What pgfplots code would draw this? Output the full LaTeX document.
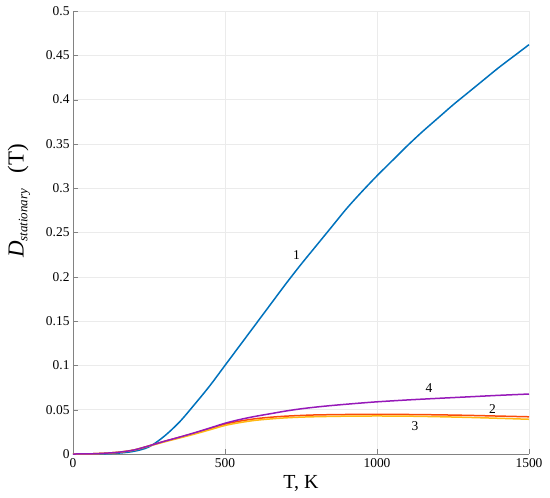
\documentclass[border=0pt]{standalone}
\usepackage{fontspec}
\setmainfont{Liberation Serif}
\usepackage{pgfplots}
\pgfplotsset{compat=1.18}

\definecolor{c1}{RGB}{0,114,189}
\definecolor{c2}{RGB}{250,75,10}
\definecolor{c3}{RGB}{255,185,20}
\definecolor{c4}{RGB}{150,25,185}
\definecolor{gridc}{RGB}{235,235,235}
\definecolor{axc}{RGB}{130,130,130}

\begin{document}
\begin{tikzpicture}
\begin{axis}[
    scale only axis,
    width=456bp, height=443bp,
    xmin=0, xmax=1500, ymin=0, ymax=0.5,
    xtick={0,500,1000,1500},
    xticklabels={0,500,1000,1500},
    ytick={0,0.05,0.1,0.15,0.2,0.25,0.3,0.35,0.4,0.45,0.5},
    yticklabels={0,0.05,0.1,0.15,0.2,0.25,0.3,0.35,0.4,0.45,0.5},
    axis lines*=left,
    axis line style={axc, line width=0.6bp},
    tick align=inside,
    major tick length=5bp,
    tick style={axc},
    grid=major,
    major grid style={gridc, line width=0.6bp},
    tick label style={font=\fontsize{13.5}{15}\selectfont},
    xticklabel style={yshift=-1bp},
    xlabel={T, K},
    xlabel style={font=\fontsize{20}{22}\selectfont, at={(axis description cs:0.5,-0.0655)}, anchor=center},
    ylabel={\textit{D}\textsubscript{\fontsize{13}{14}\selectfont\textit{stationary}}\hspace{15bp}(T)},
    ylabel style={font=\fontsize{23}{25}\selectfont, at={(axis description cs:-0.1184,0.571)}, anchor=center},
    every axis plot/.append style={line width=1.5bp, smooth, no marks},
    clip=false,
]
% curve 1
\addplot[c1] coordinates {
(0,0) (50,0) (100,0.0002) (150,0.001) (200,0.003) (250,0.008) (300,0.020)
(350,0.036) (400,0.056) (450,0.077) (500,0.100) (550,0.123) (600,0.146)
(650,0.169) (700,0.192) (750,0.214) (800,0.235) (850,0.256) (900,0.277)
(950,0.296) (1000,0.314) (1050,0.331) (1100,0.348) (1150,0.364) (1200,0.379)
(1250,0.394) (1300,0.408) (1350,0.422) (1400,0.436) (1450,0.449) (1500,0.462)};
% curve 2
\addplot[c2] coordinates {
(0,0) (50,0.0001) (100,0.0008) (150,0.002) (200,0.0045) (250,0.0092)
(300,0.0142) (350,0.0188) (400,0.0236) (450,0.0287) (500,0.0337) (550,0.0372)
(600,0.0398) (650,0.0415) (700,0.0427) (750,0.0435) (800,0.0441) (900,0.0446)
(1000,0.0447) (1100,0.0446) (1200,0.0442) (1300,0.0436) (1400,0.0428) (1500,0.0420)};
% curve 3
\addplot[c3] coordinates {
(0,0) (50,0.0001) (100,0.0008) (150,0.002) (200,0.0044) (250,0.0089)
(300,0.0136) (350,0.018) (400,0.0225) (450,0.0273) (500,0.0322) (550,0.0355)
(600,0.038) (650,0.0396) (700,0.0408) (750,0.0416) (800,0.0421) (900,0.0427)
(1000,0.0429) (1100,0.0427) (1200,0.0421) (1300,0.0413) (1400,0.0403) (1500,0.0392)};
% curve 4
\addplot[c4] coordinates {
(0,0) (50,0.0001) (100,0.0008) (150,0.002) (200,0.0045) (250,0.0092)
(300,0.0143) (350,0.0190) (400,0.0240) (450,0.0293) (500,0.0347) (550,0.0390)
(600,0.0425) (650,0.0455) (700,0.0485) (750,0.0510) (800,0.0530) (850,0.0547)
(900,0.0562) (950,0.0576) (1000,0.0589) (1100,0.0610) (1200,0.0628)
(1300,0.0645) (1400,0.0662) (1500,0.0677)};
\node[font=\fontsize{13.5}{15}\selectfont] at (axis cs:735,0.2246) {1};
\node[font=\fontsize{13.5}{15}\selectfont] at (axis cs:1380,0.0508) {2};
\node[font=\fontsize{13.5}{15}\selectfont] at (axis cs:1125,0.031) {3};
\node[font=\fontsize{13.5}{15}\selectfont] at (axis cs:1171,0.074) {4};
\end{axis}
\path ([xshift=-73bp,yshift=-44bp]current axis.south west)
      ([xshift=21bp,yshift=11bp]current axis.north east);
\end{tikzpicture}
\end{document}
